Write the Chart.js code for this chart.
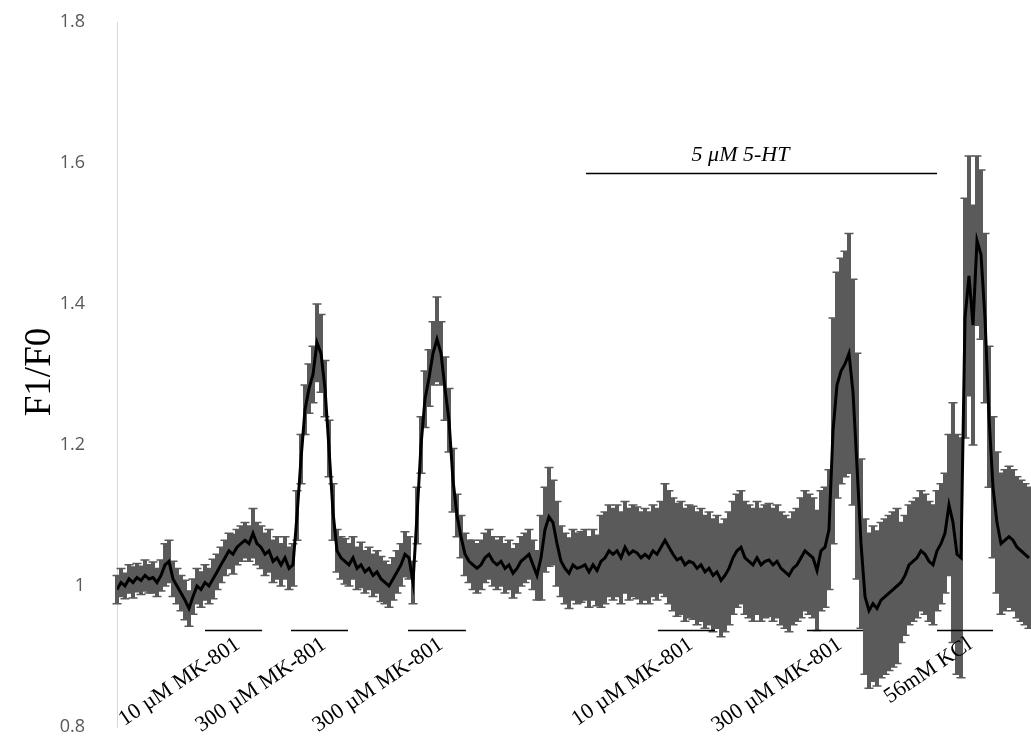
<!DOCTYPE html>
<html>
<head>
<meta charset="utf-8">
<script src="https://cdn.jsdelivr.net/npm/chart.js@4.4.1/dist/chart.umd.min.js"></script>
<style>
  html, body { margin: 0; padding: 0; background: #fff; }
</style>
</head>
<body>
<canvas id="traza" width="1031" height="740"></canvas>
<script>
// ==== Datos ====
// media F1/F0 por muestra
const means = [
  0.995, 1.005, 1.0, 1.01, 1.005, 1.012, 1.008, 1.015, 1.01, 1.012,
  1.005, 1.015, 1.03, 1.035, 1.01, 1.0, 0.99, 0.98, 0.968, 0.985,
  1.0, 0.995, 1.005, 1.0, 1.01, 1.02, 1.03, 1.04, 1.05, 1.045,
  1.055, 1.06, 1.065, 1.06, 1.075, 1.06, 1.055, 1.045, 1.05, 1.035,
  1.04, 1.03, 1.04, 1.025, 1.03, 1.10, 1.18, 1.25, 1.28, 1.30,
  1.345, 1.33, 1.28, 1.195, 1.105, 1.05, 1.04, 1.035, 1.03, 1.04,
  1.025, 1.03, 1.02, 1.025, 1.015, 1.02, 1.01, 1.005, 1.0, 1.01,
  1.02, 1.03, 1.045, 1.04, 1.005, 1.10, 1.20, 1.265, 1.295, 1.33,
  1.35, 1.33, 1.28, 1.235, 1.15, 1.10, 1.07, 1.045, 1.035, 1.03,
  1.025, 1.03, 1.04, 1.045, 1.035, 1.03, 1.035, 1.025, 1.03, 1.018,
  1.025, 1.035, 1.04, 1.045, 1.03, 1.015, 1.04, 1.08, 1.098, 1.09,
  1.06, 1.035, 1.025, 1.018, 1.03, 1.025, 1.027, 1.03, 1.02, 1.03,
  1.022, 1.035, 1.04, 1.05, 1.045, 1.05, 1.04, 1.055, 1.045, 1.05,
  1.047, 1.04, 1.045, 1.04, 1.05, 1.045, 1.055, 1.065, 1.055, 1.045,
  1.037, 1.04, 1.03, 1.035, 1.033, 1.025, 1.03, 1.02, 1.025, 1.015,
  1.02, 1.008, 1.015, 1.025, 1.04, 1.05, 1.055, 1.04, 1.035, 1.03,
  1.04, 1.03, 1.035, 1.037, 1.03, 1.035, 1.025, 1.02, 1.015, 1.025,
  1.03, 1.04, 1.05, 1.045, 1.04, 1.022, 1.05, 1.055, 1.08, 1.22,
  1.285, 1.305, 1.315, 1.33, 1.275, 1.17, 1.06, 0.985, 0.965, 0.975,
  0.968, 0.98, 0.985, 0.99, 0.995, 1.0, 1.005, 1.015, 1.03, 1.035,
  1.04, 1.05, 1.045, 1.035, 1.03, 1.05, 1.06, 1.075, 1.115, 1.09,
  1.045, 1.04, 1.38, 1.44, 1.37, 1.49, 1.47, 1.38, 1.24, 1.14,
  1.09, 1.06, 1.065, 1.07, 1.065, 1.055, 1.05, 1.045, 1.04
];
// error (SEM) por muestra
const errs = [
  0.02, 0.02, 0.018, 0.02, 0.022, 0.02, 0.02, 0.022, 0.02, 0.022,
  0.02, 0.022, 0.03, 0.03, 0.025, 0.025, 0.025, 0.028, 0.025, 0.025,
  0.025, 0.025, 0.025, 0.025, 0.028, 0.025, 0.025, 0.025, 0.025, 0.028,
  0.025, 0.025, 0.025, 0.025, 0.035, 0.03, 0.03, 0.03, 0.03, 0.03,
  0.03, 0.03, 0.03, 0.03, 0.03, 0.035, 0.035, 0.035, 0.035, 0.04,
  0.055, 0.055, 0.04, 0.04, 0.04, 0.03, 0.03, 0.032, 0.03, 0.03,
  0.03, 0.032, 0.03, 0.03, 0.03, 0.03, 0.032, 0.03, 0.03, 0.03,
  0.03, 0.03, 0.032, 0.03, 0.03, 0.04, 0.04, 0.04, 0.04, 0.045,
  0.06, 0.045, 0.045, 0.045, 0.045, 0.03, 0.03, 0.03, 0.03, 0.035,
  0.035, 0.035, 0.035, 0.035, 0.035, 0.035, 0.035, 0.035, 0.035, 0.035,
  0.035, 0.035, 0.035, 0.035, 0.035, 0.035, 0.06, 0.06, 0.07, 0.06,
  0.06, 0.05, 0.05, 0.05, 0.05, 0.05, 0.05, 0.05, 0.05, 0.05,
  0.05, 0.065, 0.065, 0.065, 0.065, 0.065, 0.065, 0.065, 0.065, 0.065,
  0.065, 0.065, 0.065, 0.065, 0.065, 0.065, 0.065, 0.08, 0.08, 0.08,
  0.08, 0.08, 0.08, 0.08, 0.08, 0.08, 0.08, 0.08, 0.08, 0.08,
  0.08, 0.08, 0.08, 0.08, 0.08, 0.08, 0.08, 0.08, 0.08, 0.08,
  0.08, 0.08, 0.08, 0.08, 0.08, 0.08, 0.08, 0.08, 0.08, 0.08,
  0.08, 0.085, 0.085, 0.085, 0.085, 0.085, 0.085, 0.085, 0.085, 0.16,
  0.16, 0.16, 0.16, 0.17, 0.16, 0.16, 0.12, 0.11, 0.11, 0.11,
  0.11, 0.11, 0.11, 0.11, 0.11, 0.11, 0.085, 0.085, 0.085, 0.085,
  0.085, 0.085, 0.085, 0.085, 0.085, 0.085, 0.085, 0.085, 0.1, 0.17,
  0.17, 0.17, 0.17, 0.17, 0.17, 0.12, 0.12, 0.12, 0.1, 0.1,
  0.1, 0.1, 0.1, 0.1, 0.1, 0.1, 0.1, 0.1, 0.1
];
const muestras = means.map((_, i) => i);

const yTicks = [0.8, 1.0, 1.2, 1.4, 1.6, 1.8];
const yTitulo = 'F1/F0';

// aplicaciones (en numero de muestra)
const drogas      = ['10 µM MK-801', '300 µM MK-801', '300 µM MK-801', '10 µM MK-801', '300 µM MK-801', '56mM KCl'];
const drogaInicio = [22, 43.5, 72.75, 135.25, 172.5, 205];
const drogaFin    = [36.25, 57.75, 87.25, 149.5, 186.5, 219];
const drogaNivel  = 0.938;

const htLabel  = '5 \u03BCM 5-HT';
const htInicio = 117.25;
const htFin    = 205;
const htNivel  = 1.586;

// ==== Plugins ====
const barrasError = {
  id: 'barrasError',
  beforeDatasetsDraw(chart) {
    const { ctx, scales: { x, y } } = chart;
    ctx.save();
    ctx.strokeStyle = '#5a5a5a';
    means.forEach((m, i) => {
      const px = x.getPixelForValue(muestras[i]);
      const top = y.getPixelForValue(m + errs[i]);
      const bot = y.getPixelForValue(m - errs[i]);
      ctx.lineWidth = 4;
      ctx.beginPath();
      ctx.moveTo(px, top);
      ctx.lineTo(px, bot);
      ctx.stroke();
      ctx.lineWidth = 1.5;
      ctx.beginPath();
      ctx.moveTo(px - 4.5, top); ctx.lineTo(px + 4.5, top);
      ctx.moveTo(px - 4.5, bot); ctx.lineTo(px + 4.5, bot);
      ctx.stroke();
    });
    ctx.restore();
  }
};

const anotaciones = {
  id: 'anotaciones',
  afterDatasetsDraw(chart) {
    const { ctx, scales: { x, y } } = chart;
    ctx.save();
    ctx.strokeStyle = '#000';
    ctx.lineWidth = 1.6;
    const yd = Math.round(y.getPixelForValue(drogaNivel)) + 0.5;
    drogas.forEach((txt, i) => {
      const x0 = x.getPixelForValue(drogaInicio[i]);
      const x1 = x.getPixelForValue(drogaFin[i]);
      ctx.beginPath();
      ctx.moveTo(x0, yd); ctx.lineTo(x1, yd);
      ctx.stroke();

      ctx.save();
      ctx.translate(x0 + 33, yd + 12);
      ctx.rotate(-34 * Math.PI / 180);
      ctx.font = '22px "Liberation Serif"';
      ctx.fillStyle = '#000';
      ctx.textAlign = 'right';
      ctx.textBaseline = 'middle';
      ctx.fillText(txt, 0, 0);
      ctx.restore();
    });

    // 5-HT
    const yh = Math.round(y.getPixelForValue(htNivel)) + 0.5;
    const h0 = x.getPixelForValue(htInicio);
    const h1 = x.getPixelForValue(htFin);
    ctx.beginPath();
    ctx.moveTo(h0, yh); ctx.lineTo(h1, yh);
    ctx.stroke();
    ctx.font = 'italic 22px "Liberation Serif"';
    ctx.fillStyle = '#000';
    ctx.textAlign = 'center';
    ctx.textBaseline = 'alphabetic';
    ctx.fillText(htLabel, (h0 + h1) / 2 - 21, yh - 13);

    // titulo eje Y
    ctx.save();
    ctx.translate(40, 372);
    ctx.rotate(-Math.PI / 2);
    ctx.font = '37px "Liberation Serif"';
    ctx.textAlign = 'center';
    ctx.textBaseline = 'middle';
    ctx.fillText(yTitulo, 0, 0);
    ctx.restore();
    ctx.restore();
  }
};

// ==== Grafico ====
const canvas = document.getElementById('traza');
new Chart(canvas, {
  type: 'line',
  data: {
    datasets: [{
      label: yTitulo,
      data: muestras.map((t, i) => ({ x: t, y: means[i] })),
      borderColor: '#000',
      borderWidth: 3,
      pointRadius: 0,
      tension: 0,
      fill: false
    }]
  },
  options: {
    responsive: false,
    animation: false,
    layout: { padding: { top: 22, bottom: 13, left: 0, right: 0 } },
    plugins: {
      legend: { display: false },
      tooltip: { enabled: false }
    },
    scales: {
      x: {
        type: 'linear',
        display: false,
        min: 0,
        max: 228.5
      },
      y: {
        min: 0.8,
        max: 1.8,
        afterFit(scale) {
          scale.width = 117;
          scale.paddingTop = 10;
          scale.paddingBottom = 10;
        },
        afterBuildTicks(scale) { scale.ticks = yTicks.map(v => ({ value: v })); },
        grid: { display: false, drawTicks: false },
        border: { display: true, color: '#d9d9d9', width: 1 },
        ticks: {
          padding: 32,
          color: '#595959',
          font: { family: '"Open Sans"', size: 18 },
          callback: v => String(Math.round(v * 10) / 10)
        }
      }
    }
  },
  plugins: [barrasError, anotaciones]
});
</script>
</body>
</html>
